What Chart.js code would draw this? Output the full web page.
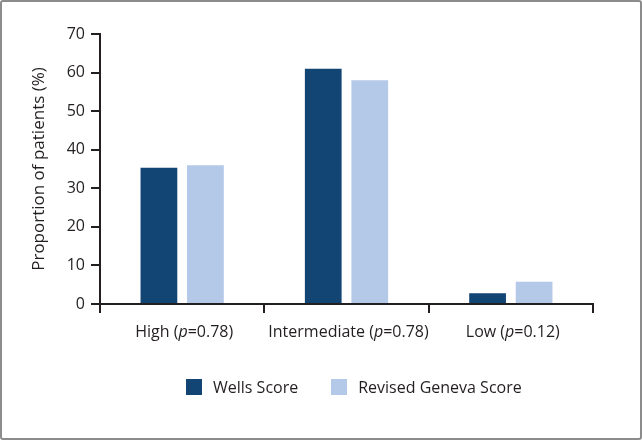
<!DOCTYPE html>
<html>
<head>
<meta charset="utf-8">
<script src="https://cdn.jsdelivr.net/npm/chart.js@4.4.1/dist/chart.umd.min.js"></script>
<style>
    html, body { margin: 0; padding: 0; background: #fff; }
    #frame {
        position: relative;
        width: 638px;
        height: 436px;
        border: 2px solid #8c8c8c;
        border-radius: 3px;
        overflow: hidden;
    }
    #chartBox { position: absolute; left: -2px; top: -2px; width: 642px; height: 440px; }
    #legend {
        position: absolute;
        top: 374px;
        left: 184px;
        display: flex;
        align-items: center;
        font-family: "Open Sans", sans-serif;
        font-size: 16px;
        color: #231f20;
    }
    .item { display: flex; align-items: center; margin-right: 33px; }
    .swatch { width: 16px; height: 16px; margin-right: 11px; }
</style>
</head>
<body>
<div id="frame">
    <div id="chartBox"><canvas id="barChart"></canvas></div>
    <div id="legend"></div>
</div>
<script>
// Data
const categories = ['High', 'Intermediate', 'Low'];
const pValues = ['0.78', '0.78', '0.12'];
const wellsScore = [35.3, 61.0, 2.8];
const genevaScore = [36.0, 58.0, 5.8];
const yTicks = [0, 10, 20, 30, 40, 50, 60, 70];

const seriesNames = ['Wells Score', 'Revised Geneva Score'];
const seriesColors = ['#134574', '#b4c8e8'];
const textColor = '#231f20';
const fontFamily = '"Open Sans", sans-serif';

// Category labels with an italic "p"
const categoryLabels = {
    id: 'categoryLabels',
    afterDraw(chart) {
        const ctx = chart.ctx;
        const x = chart.scales.x;
        const normal = '16px ' + fontFamily;
        const italic = 'italic 16px ' + fontFamily;
        ctx.save();
        ctx.fillStyle = textColor;
        ctx.textBaseline = 'middle';
        ctx.textAlign = 'left';
        categories.forEach((cat, i) => {
            const parts = [
                [cat + ' (', normal],
                ['p', italic],
                ['=' + pValues[i] + ')', normal]
            ];
            let total = 0;
            parts.forEach(p => { ctx.font = p[1]; total += ctx.measureText(p[0]).width; });
            let cx = x.getPixelForValue(i) - total / 2 + 2;
            parts.forEach(p => {
                ctx.font = p[1];
                ctx.fillText(p[0], cx, x.bottom + 19);
                cx += ctx.measureText(p[0]).width;
            });
        });
        ctx.restore();
    }
};

const ctxBar = document.getElementById('barChart').getContext('2d');
new Chart(ctxBar, {
    type: 'bar',
    data: {
        labels: categories,
        datasets: [
            {
                label: seriesNames[0],
                data: wellsScore,
                backgroundColor: seriesColors[0],
                barPercentage: 0.79,
                categoryPercentage: 0.566
            },
            {
                label: seriesNames[1],
                data: genevaScore,
                backgroundColor: seriesColors[1],
                barPercentage: 0.79,
                categoryPercentage: 0.566
            }
        ]
    },
    options: {
        responsive: true,
        maintainAspectRatio: false,
        animation: false,
        layout: { padding: { left: 29, right: 49, top: 34, bottom: 127 } },
        plugins: { legend: { display: false }, tooltip: { enabled: false } },
        scales: {
            y: {
                min: 0,
                max: 70,
                afterBuildTicks: (scale) => { scale.ticks = yTicks.map(v => ({ value: v })); },
                afterFit: (scale) => { scale.width = 71; },
                border: { color: textColor, width: 2 },
                grid: { drawOnChartArea: false, color: textColor, lineWidth: 2, tickLength: 9 },
                ticks: { color: textColor, font: { family: fontFamily, size: 16 }, padding: 6 },
                title: {
                    display: true,
                    text: 'Proportion of patients (%)',
                    color: textColor,
                    font: { family: fontFamily, size: 17 },
                    padding: { top: 0, bottom: 4 }
                }
            },
            x: {
                border: { color: textColor, width: 2 },
                grid: { drawOnChartArea: false, color: textColor, lineWidth: 2, tickLength: 9, offset: true },
                ticks: { display: false }
            }
        }
    },
    plugins: [categoryLabels]
});

// Legend
const legend = document.getElementById('legend');
seriesNames.forEach((name, i) => {
    const item = document.createElement('div');
    item.className = 'item';
    item.innerHTML = `<span class="swatch" style="background:${seriesColors[i]}"></span><span>${name}</span>`;
    legend.appendChild(item);
});
</script>
</body>
</html>
